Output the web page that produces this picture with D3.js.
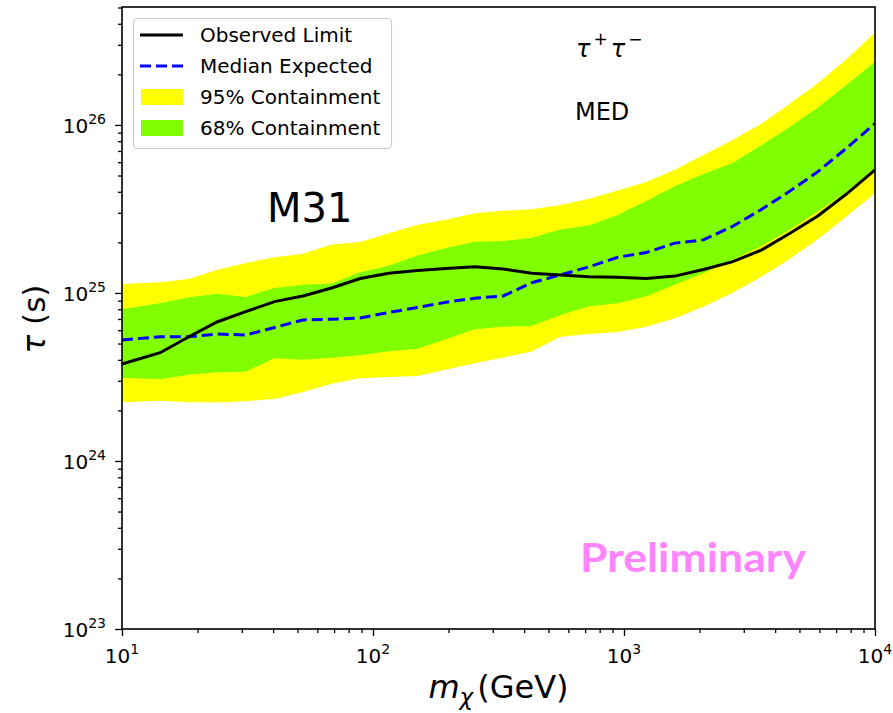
<!DOCTYPE html>
<html>
<head>
<meta charset="utf-8">
<script src="https://cdn.jsdelivr.net/npm/d3@7"></script>
<style>
  body { margin: 0; background: #fff; }
  text { font-family: "DejaVu Sans", sans-serif; }
</style>
</head>
<body>
<div id="chart"></div>
<script>
// dark matter mass grid (GeV)
var mass = [10, 14.2, 18.4, 23.9, 31.1, 40.5, 52.6, 68.4, 88.9, 115.6, 150.3, 195.4, 254, 330.2,
            429.1, 557.9, 725.2, 942.9, 1226, 1594, 2072, 2693, 3501, 4551, 5917, 7691, 10000];
// lifetime limits (s)
var observed = [3.78e24, 4.41e24, 5.47e24, 6.72e24, 7.74e24, 8.88e24, 9.60e24, 1.07e25, 1.22e25, 1.31e25,
                1.36e25, 1.40e25, 1.43e25, 1.39e25, 1.31e25, 1.28e25, 1.25e25, 1.24e25, 1.22e25, 1.26e25,
                1.38e25, 1.53e25, 1.79e25, 2.25e25, 2.87e25, 3.88e25, 5.40e25];
var median = [5.25e24, 5.49e24, 5.49e24, 5.70e24, 5.62e24, 6.23e24, 6.91e24, 6.98e24, 7.10e24, 7.65e24,
              8.20e24, 8.81e24, 9.30e24, 9.60e24, 1.15e25, 1.28e25, 1.43e25, 1.63e25, 1.74e25, 1.98e25,
              2.07e25, 2.48e25, 3.12e25, 4.01e25, 5.27e25, 7.27e25, 1.02e26];
var up95 = [1.13e25, 1.16e25, 1.21e25, 1.37e25, 1.51e25, 1.63e25, 1.71e25, 1.94e25, 2.01e25, 2.27e25,
            2.55e25, 2.73e25, 2.98e25, 3.09e25, 3.15e25, 3.34e25, 3.64e25, 4.07e25, 4.57e25, 5.42e25,
            6.63e25, 8.11e25, 1.01e26, 1.33e26, 1.77e26, 2.46e26, 3.55e26];
var up68 = [8.00e24, 8.68e24, 9.40e24, 9.89e24, 9.47e24, 1.07e25, 1.12e25, 1.14e25, 1.33e25, 1.45e25,
            1.67e25, 1.85e25, 2.02e25, 2.04e25, 2.13e25, 2.39e25, 2.52e25, 2.91e25, 3.53e25, 4.32e25,
            5.11e25, 5.92e25, 7.52e25, 9.66e25, 1.27e26, 1.73e26, 2.38e26];
var lo68 = [3.13e24, 3.06e24, 3.26e24, 3.37e24, 3.40e24, 4.09e24, 4.01e24, 4.11e24, 4.26e24, 4.50e24,
            4.66e24, 5.30e24, 6.08e24, 6.30e24, 6.36e24, 7.40e24, 8.34e24, 8.68e24, 9.56e24, 1.12e25,
            1.31e25, 1.57e25, 1.89e25, 2.37e25, 3.05e25, 4.01e25, 5.55e25];
var lo95 = [2.24e24, 2.28e24, 2.24e24, 2.23e24, 2.27e24, 2.34e24, 2.57e24, 2.88e24, 3.11e24, 3.16e24,
            3.21e24, 3.50e24, 3.82e24, 4.13e24, 4.48e24, 5.49e24, 5.70e24, 5.85e24, 6.30e24, 7.07e24,
            8.29e24, 1.00e25, 1.24e25, 1.59e25, 2.09e25, 2.85e25, 3.92e25];

var xTicks = [1, 2, 3, 4];        // exponents
var yTicks = [23, 24, 25, 26];

var W = 893, H = 713;
var pl = 122, pr = 875, pt = 7, pb = 629;
var LW = 3, DASH = "11,5";

var svg = d3.select("#chart").append("svg")
    .attr("width", W)
    .attr("height", H);

var x = d3.scaleLog().domain([10, 1e4]).range([pl, pr]);
var y = d3.scaleLog().domain([1e23, Math.pow(10, 26.702)]).range([pb, pt]);

var rows = mass.map(function (m, i) {
    return {m: m, obs: observed[i], med: median[i], u95: up95[i], u68: up68[i], l68: lo68[i], l95: lo95[i]};
});

var area95 = d3.area().x(function (d) { return x(d.m); })
    .y0(function (d) { return y(d.l95); }).y1(function (d) { return y(d.u95); });
var area68 = d3.area().x(function (d) { return x(d.m); })
    .y0(function (d) { return y(d.l68); }).y1(function (d) { return y(d.u68); });

svg.append("path").datum(rows).attr("d", area95).attr("fill", "#ffff00");
svg.append("path").datum(rows).attr("d", area68).attr("fill", "#7fff00");

svg.append("path").datum(rows)
    .attr("d", d3.line().x(function (d) { return x(d.m); }).y(function (d) { return y(d.med); }))
    .attr("fill", "none").attr("stroke", "#0000ff").attr("stroke-width", LW)
    .attr("stroke-dasharray", DASH);
svg.append("path").datum(rows)
    .attr("d", d3.line().x(function (d) { return x(d.m); }).y(function (d) { return y(d.obs); }))
    .attr("fill", "none").attr("stroke", "#000").attr("stroke-width", LW);

// frame
svg.append("rect")
    .attr("x", pl).attr("y", pt)
    .attr("width", pr - pl).attr("height", pb - pt)
    .attr("fill", "none").attr("stroke", "#000").attr("stroke-width", 1.6);

// minor ticks
var minorX = [], minorY = [];
for (var e = 1; e < 4; e++) for (var k = 2; k < 10; k++) minorX.push(k * Math.pow(10, e));
for (var e2 = 23; e2 < 27; e2++) for (var k2 = 2; k2 < 10; k2++) {
    var v = k2 * Math.pow(10, e2);
    if (v < y.domain()[1]) minorY.push(v);
}

var gx = svg.append("g").attr("transform", "translate(0," + pb + ")");
gx.call(d3.axisBottom(x).tickValues(minorX).tickSize(4).tickFormat(""));
gx.append("g").call(d3.axisBottom(x).tickValues(xTicks.map(function (p) { return Math.pow(10, p); }))
    .tickSize(7).tickFormat(""));
gx.selectAll(".domain").remove();
gx.selectAll("line").attr("stroke-width", 1.3);

var gy = svg.append("g").attr("transform", "translate(" + pl + ",0)");
gy.call(d3.axisLeft(y).tickValues(minorY).tickSize(4).tickFormat(""));
gy.append("g").call(d3.axisLeft(y).tickValues(yTicks.map(function (p) { return Math.pow(10, p); }))
    .tickSize(7).tickFormat(""));
gy.selectAll(".domain").remove();
gy.selectAll("line").attr("stroke-width", 1.3);

// tick labels with superscripts
xTicks.forEach(function (p) {
    var t = svg.append("text")
        .attr("x", x(Math.pow(10, p)))
        .attr("y", 663)
        .attr("text-anchor", "middle")
        .attr("font-size", 20);
    t.append("tspan").text("10");
    t.append("tspan").attr("dy", -9).attr("font-size", 14).text(p);
});
yTicks.forEach(function (p) {
    var t = svg.append("text")
        .attr("x", 106)
        .attr("y", y(Math.pow(10, p)) + 8)
        .attr("text-anchor", "end")
        .attr("font-size", 20);
    t.append("tspan").text("10");
    t.append("tspan").attr("dy", -9).attr("font-size", 14).text(p);
});

// axis titles
var xl = svg.append("text")
    .attr("x", (pl + pr) / 2).attr("y", 698)
    .attr("text-anchor", "middle").attr("font-size", 32);
xl.append("tspan").attr("font-style", "italic").text("m");
xl.append("tspan").attr("font-style", "italic").attr("font-size", 23).attr("dy", 7).text("χ");
xl.append("tspan").attr("dx", 4).attr("dy", -7).text("(GeV)");

var yl = svg.append("text")
    .attr("transform", "translate(45," + 319 + ") rotate(-90)")
    .attr("text-anchor", "middle").attr("font-size", 31);
yl.append("tspan").attr("font-style", "italic").text("τ");
yl.append("tspan").text(" (s)");

// annotations
var tt = svg.append("text").attr("x", 576).attr("y", 57).attr("font-size", 24);
tt.append("tspan").attr("font-style", "italic").text("τ");
tt.append("tspan").attr("dx", 3).attr("dy", -12).attr("font-size", 17).text("+");
tt.append("tspan").attr("dx", 3).attr("dy", 12).attr("font-style", "italic").text("τ");
tt.append("tspan").attr("dx", 3).attr("dy", -12).attr("font-size", 17).text("−");

svg.append("text").attr("x", 575).attr("y", 120).attr("font-size", 24).text("MED");
svg.append("text").attr("x", 267).attr("y", 222).attr("font-size", 40).text("M31");
svg.append("text").attr("x", 580).attr("y", 572)
    .style("font-family", "Lato, 'Open Sans', sans-serif")
    .attr("font-weight", "bold").attr("font-size", 40)
    .attr("textLength", 226).attr("lengthAdjust", "spacingAndGlyphs")
    .attr("fill", "#ff85ff").text("Preliminary");

// legend
var legend = svg.append("g");
legend.append("rect")
    .attr("x", 133.5).attr("y", 18.5).attr("width", 258).attr("height", 130)
    .attr("rx", 4).attr("fill", "#fff").attr("fill-opacity", 0.8)
    .attr("stroke", "#cccccc").attr("stroke-width", 1.2);
var items = [
    {label: "Observed Limit", type: "line", color: "#000", dash: null},
    {label: "Median Expected", type: "line", color: "#0000ff", dash: DASH},
    {label: "95% Containment", type: "patch", color: "#ffff00"},
    {label: "68% Containment", type: "patch", color: "#7fff00"}
];
items.forEach(function (it, i) {
    var cy = 35 + i * 31;
    if (it.type === "line") {
        legend.append("line")
            .attr("x1", 140).attr("x2", 183).attr("y1", cy).attr("y2", cy)
            .attr("stroke", it.color).attr("stroke-width", LW)
            .attr("stroke-dasharray", it.dash);
    } else {
        legend.append("rect")
            .attr("x", 141).attr("y", cy - 8).attr("width", 42).attr("height", 16)
            .attr("fill", it.color);
    }
    legend.append("text")
        .attr("x", 200).attr("y", cy + 7)
        .attr("font-size", 20).text(it.label);
});
</script>
</body>
</html>
